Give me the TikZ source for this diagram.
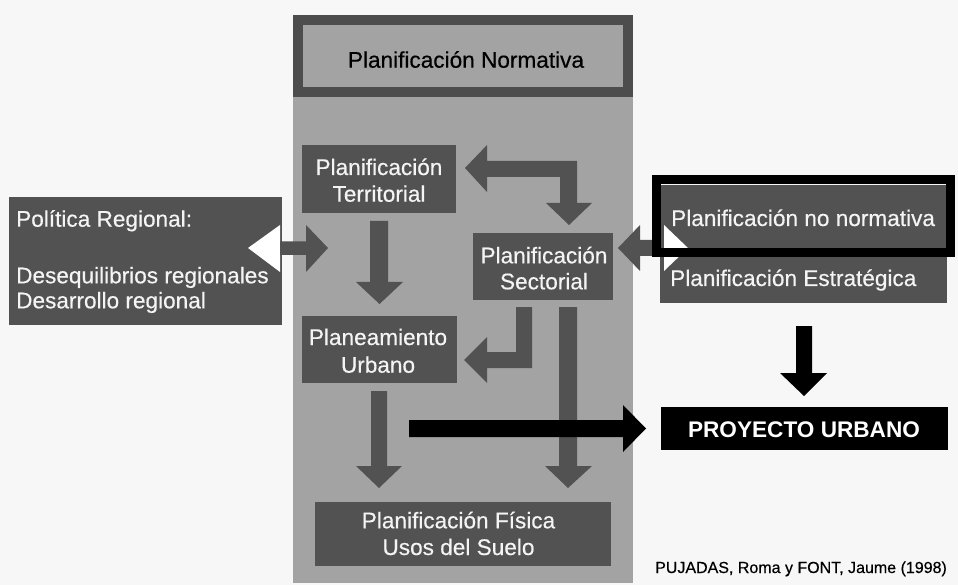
\documentclass[tikz,border=0pt]{standalone}
\usepackage{fontspec}
\setmainfont{Liberation Sans}[FakeBold=0.4]
\newfontfamily\plainsans{Liberation Sans}
\definecolor{bgc}{HTML}{F7F7F7}
\definecolor{colg}{HTML}{A3A3A3}
\definecolor{darkg}{HTML}{525252}
\definecolor{framec}{HTML}{4D4D4D}
\definecolor{wtext}{HTML}{F4F4F4}
\begin{document}
\begin{tikzpicture}[x=1pt,y=-1pt,
  box/.style={rectangle, fill=darkg, inner sep=0pt, draw=none},
  wtxt/.style={anchor=base, text=wtext, inner sep=0pt, font=\fontsize{22.6}{26}\selectfont},
  wtxtl/.style={wtxt, anchor=base west},
  arr/.style={fill=darkg},
  barr/.style={fill=black}]
\useasboundingbox (0,0) rectangle (958,585);
\fill[bgc] (0,0) rectangle (958,585);
% column
\fill[colg] (293,15) rectangle (633,583);
% top box
\node[rectangle, draw=framec, line width=10pt, fill=colg, minimum width=330pt, minimum height=72pt, inner sep=0pt] (norm) at (463,56) {};
\node[wtxt, text=black] (normT) at (466,67.7) {Planificación Normativa};
% boxes
\node[box, minimum width=154pt, minimum height=68pt] (terr) at (379,179) {};
\node[box, minimum width=140pt, minimum height=67pt] (sect) at (543,266.5) {};
\node[box, minimum width=155pt, minimum height=67pt] (plan) at (379.5,349.5) {};
\node[box, minimum width=296pt, minimum height=64pt] (fis) at (463,534) {};
\node[box, minimum width=273pt, minimum height=128pt] (pol) at (145.5,261) {};
\node[box, minimum width=287pt, minimum height=118pt] (estr) at (803.5,244) {};
\node[rectangle, fill=black, inner sep=0pt, minimum width=287pt, minimum height=43pt] (proy) at (804.5,428.5) {};
% texts
\node[wtxt] (terrA) at (379,175) {Planificación};
\node[wtxt] (terrB) at (379,201.7) {Territorial};
\node[wtxt] (sectA) at (544,263.3) {Planificación};
\node[wtxt] (sectB) at (544,289.3) {Sectorial};
\node[wtxt] (planA) at (378,345) {Planeamiento};
\node[wtxt] (planB) at (378,372.7) {Urbano};
\node[wtxt] (fisA) at (458.5,528.3) {Planificación Física};
\node[wtxt] (fisB) at (458.5,555) {Usos del Suelo};
\node[wtxtl] (polA) at (16,226.7) {Política Regional:};
\node[wtxtl] (polB) at (16,283.3) {Desequilibrios regionales};
\node[wtxtl] (polC) at (16,308.3) {Desarrollo regional};
\node[wtxtl] (estrT) at (670,286) {Planificación Estratégica};
\node[wtxtl] (nonT) at (671,226) {Planificación no normativa};
\node[anchor=base, text=white, inner sep=0pt, font=\plainsans\bfseries\fontsize{22.6}{26}\selectfont] (proyT) at (804,437.3) {PROYECTO URBANO};
\node[anchor=base west, text=black, inner sep=0pt, font=\fontsize{16}{19}\selectfont] (src) at (655,573) {PUJADAS, Roma y FONT, Jaume (1998)};
% arrows (gray)
\fill[arr] (370,221) -- (388,221) -- (388,282) -- (403,282) -- (379.5,304) -- (356,282) -- (370,282) -- cycle;
\fill[arr] (465,168) -- (487,145) -- (487,161) -- (577,161) -- (577,203) -- (592,203) -- (569,225) -- (546,203) -- (560,203) -- (560,177) -- (487,177) -- (487,192) -- cycle;
\fill[arr] (516,307) -- (532,307) -- (532,368) -- (487,368) -- (487,383) -- (464,360) -- (487,337) -- (487,352) -- (516,352) -- cycle;
\fill[arr] (559,307) -- (577,307) -- (577,466) -- (592,466) -- (568,488) -- (545,466) -- (559,466) -- cycle;
\fill[arr] (371,391) -- (387,391) -- (387,466) -- (402,466) -- (379,488) -- (356,466) -- (371,466) -- cycle;
% left double arrow
\fill[white] (248,248) -- (280,225) -- (280,272) -- cycle;
\fill[arr] (280,241.5) -- (306,241.5) -- (306,225) -- (328,248) -- (306,272) -- (306,255) -- (280,255) -- cycle;
% right double arrow
\fill[arr] (618,248) -- (640,225) -- (640,240) -- (665,240) -- (665,256) -- (640,256) -- (640,271) -- cycle;
\fill[white] (664,225) -- (688,248) -- (664,271) -- cycle;
% frame of no normativa
\draw[black, line width=9pt] (656.5,179.5) rectangle (950.5,252.5);
% black arrows
\fill[barr] (409,420) -- (623,420) -- (623,405) -- (646,428.5) -- (623,452) -- (623,437) -- (409,437) -- cycle;
\fill[barr] (796,326) -- (812,326) -- (812,373) -- (827,373) -- (804,396) -- (780,373) -- (796,373) -- cycle;
\end{tikzpicture}
\end{document}
